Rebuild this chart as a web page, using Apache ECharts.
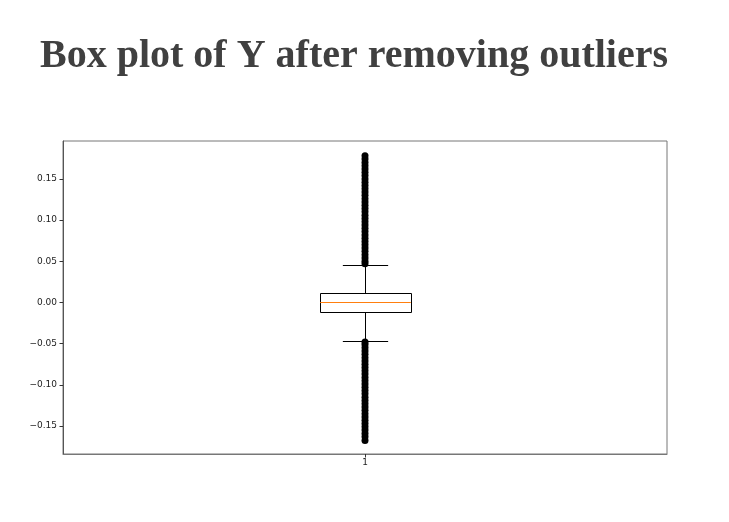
<!DOCTYPE html>
<html>
<head>
<meta charset="utf-8">
<script src="https://cdn.jsdelivr.net/npm/echarts@6/dist/echarts.min.js"></script>
<style>
html,body{margin:0;padding:0;background:#fff;}
#chart{width:729px;height:522px;}
</style>
</head>
<body>
<div id="chart"></div>
<script>
const titleText = 'Box plot of Y after removing outliers';
const categories = ['1'];
// [lowerWhisker, Q1, median, Q3, upperWhisker]
const boxStats = [[-0.047, -0.012, 0.0, 0.011, 0.046]];
const upperOutliers = [0.047, 0.050, 0.054, 0.058, 0.062, 0.066, 0.070, 0.074, 0.078, 0.082, 0.086, 0.090, 0.094, 0.098, 0.102, 0.106, 0.110, 0.114, 0.118, 0.122, 0.126, 0.130, 0.134, 0.138, 0.142, 0.146, 0.150, 0.154, 0.158, 0.162, 0.166, 0.170, 0.174, 0.178];
const lowerOutliers = [-0.048, -0.051, -0.055, -0.059, -0.063, -0.067, -0.071, -0.075, -0.079, -0.083, -0.087, -0.091, -0.095, -0.099, -0.103, -0.107, -0.111, -0.115, -0.119, -0.123, -0.127, -0.131, -0.135, -0.139, -0.143, -0.147, -0.151, -0.155, -0.159, -0.163, -0.1675];
const yTicks = [-0.15, -0.10, -0.05, 0.00, 0.05, 0.10, 0.15];
const yMin = -0.184, yMax = 0.196;

const outlierData = upperOutliers.concat(lowerOutliers).map(v => [0, v]);

const chart = echarts.init(document.getElementById('chart'), null, {renderer: 'canvas'});
chart.setOption({
  animation: false,
  backgroundColor: '#fff',
  title: {
    text: titleText,
    left: 35,
    top: 32,
    textStyle: {fontFamily: 'Liberation Serif', fontWeight: 'bold', fontSize: 40, color: '#404040'}
  },
  grid: {left: 63, top: 141, width: 604, height: 313, show: true, borderColor: '#777', borderWidth: 1, backgroundColor: '#fff'},
  xAxis: {
    type: 'category',
    data: categories,
    boundaryGap: true,
    axisLine: {show: true, onZero: false, lineStyle: {color: '#777', width: 1}},
    axisTick: {show: true, alignWithLabel: true, length: 3.5, lineStyle: {color: '#333'}},
    axisLabel: {fontSize: 9, color: '#222', fontFamily: 'DejaVu Sans', margin: 4},
    splitLine: {show: false}
  },
  yAxis: {
    type: 'value',
    min: yMin,
    max: yMax,
    axisLine: {show: true, lineStyle: {color: '#555', width: 1}},
    axisTick: {show: true, customValues: yTicks, length: 3.5, lineStyle: {color: '#333'}},
    axisLabel: {
      customValues: yTicks, fontSize: 9, color: '#222', fontFamily: 'DejaVu Sans', margin: 6,
      formatter: v => (v < 0 ? '\u2212' : '') + Math.abs(v).toFixed(2)
    },
    splitLine: {show: false}
  },
  series: [
    {
      type: 'scatter',
      data: outlierData,
      symbol: 'circle',
      symbolSize: 7,
      itemStyle: {color: '#000', opacity: 1},
      z: 3
    },
    {
      type: 'custom',
      data: boxStats.map((s, i) => [i].concat(s)),
      renderItem: function (params, api) {
        const x = api.value(0);
        const lw = api.coord([x, api.value(1)]);
        const q1 = api.coord([x, api.value(2)]);
        const md = api.coord([x, api.value(3)]);
        const q3 = api.coord([x, api.value(4)]);
        const uw = api.coord([x, api.value(5)]);
        const band = api.size([1, 0])[0];
        const bw = band * 0.15;
        const cw = band * 0.075;
        const cx = Math.round(lw[0]) + 0.5;
        const line = (x1, y1, x2, y2, color) => ({
          type: 'line',
          shape: {x1: x1, y1: Math.round(y1) + 0.5, x2: x2, y2: Math.round(y2) + 0.5},
          style: {stroke: color, lineWidth: 1}
        });
        return {
          type: 'group',
          children: [
            line(cx, q3[1], cx, uw[1], '#000'),
            line(cx, q1[1], cx, lw[1], '#000'),
            line(cx - cw / 2, uw[1], cx + cw / 2, uw[1], '#000'),
            line(cx - cw / 2, lw[1], cx + cw / 2, lw[1], '#000'),
            {
              type: 'rect',
              shape: {x: Math.round(cx - bw / 2) + 0.5, y: Math.round(q3[1]) + 0.5, width: Math.round(bw), height: Math.round(q1[1]) - Math.round(q3[1])},
              style: {fill: '#fff', stroke: '#000', lineWidth: 1}
            },
            line(cx - bw / 2, md[1], cx + bw / 2, md[1], '#ff7f0e')
          ]
        };
      },
      z: 4
    }
  ]
});
</script>
</body>
</html>
